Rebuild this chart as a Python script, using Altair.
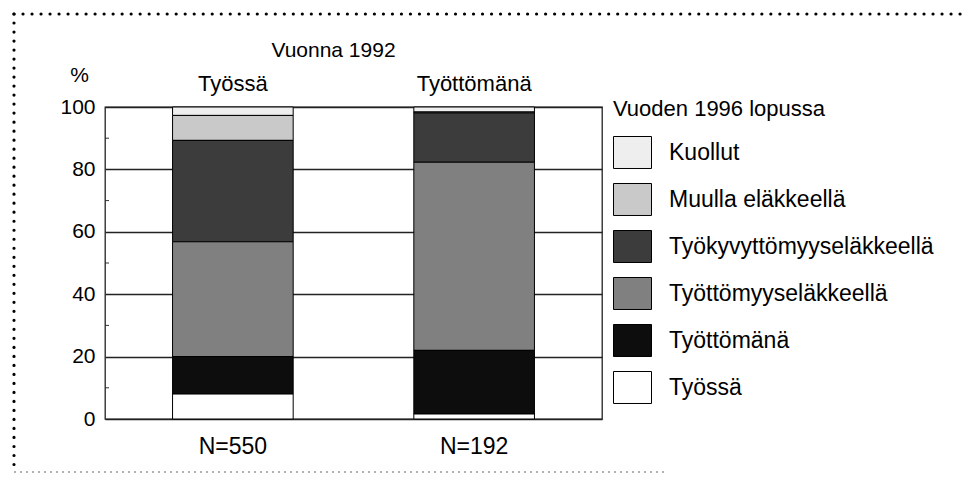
import altair as alt
import pandas as pd

# ---- data ----
groups = ["Työssä", "Työttömänä"]
n_labels = ["N=550", "N=192"]
statuses = ["Kuollut", "Muulla eläkkeellä", "Työkyvyttömyyseläkkeellä",
            "Työttömyyseläkkeellä", "Työttömänä", "Työssä"]
values_tyossa = [2.7, 8.0, 32.5, 36.8, 12.0, 8.0]
values_tyottomana = [1.6, 0.3, 15.8, 60.3, 20.4, 1.6]
colors = ["#eeeeee", "#c9c9c9", "#3c3c3c", "#808080", "#0d0d0d", "#ffffff"]
y_ticks = [0, 20, 40, 60, 80, 100]
minor_ticks = [10, 30, 50, 70, 90]

rows = []
for g, vals in zip(groups, [values_tyossa, values_tyottomana]):
    for i, (s, v) in enumerate(zip(statuses, vals)):
        rows.append({"group": g, "status": s, "value": v, "order": len(statuses) - 1 - i})
df = pd.DataFrame(rows)
ndf = pd.DataFrame({"group": groups, "n": n_labels})
mdf = pd.DataFrame({"value": minor_ticks})
one = pd.DataFrame({"a": [0]})

FONT = "Liberation Sans"

x_enc = alt.X(
    "group:N", sort=groups,
    scale=alt.Scale(paddingInner=0.5, paddingOuter=0.28),
    axis=alt.Axis(orient="top", title="Vuonna 1992", labelAngle=0, ticks=False,
                  domain=False, grid=False, labelPadding=12, labelFontSize=22,
                  labelColor="black", titleX=228, titleY=-57, titleAlign="center",
                  titleBaseline="middle", titleFontSize=21, titleFontWeight="normal",
                  titleColor="black"),
)
y_axis = alt.Axis(values=y_ticks, title="%", titleAngle=0, titleX=-26, titleY=-32,
                  titleAlign="center", titleBaseline="middle", titleFontSize=21,
                  titleFontWeight="normal", titleColor="black", ticks=False,
                  domain=False, grid=True, gridColor="#222222", gridWidth=1.3,
                  labelFontSize=21, labelPadding=10, labelColor="black")
y_scale = alt.Scale(domain=[0, 100], nice=False)

bars = alt.Chart(df).mark_bar(stroke="black", strokeWidth=1).encode(
    x=x_enc,
    y=alt.Y("value:Q", stack="zero", scale=y_scale, axis=y_axis),
    color=alt.Color(
        "status:N", sort=statuses,
        scale=alt.Scale(domain=statuses, range=colors),
        legend=alt.Legend(
            title="Vuoden 1996 lopussa", orient="none", legendX=508, legendY=-8,
            symbolType="M-1,-0.842H1V0.842H-1Z", symbolSize=1444,
            symbolStrokeColor="black", symbolStrokeWidth=1, symbolOpacity=1,
            labelFontSize=23, labelColor="black", labelOffset=17, labelLimit=400,
            titleFontSize=22, titleFontWeight="normal", titleColor="black",
            titleLimit=400, titlePadding=12, rowPadding=9, padding=0,
        ),
    ),
    order=alt.Order("order:Q", sort="ascending"),
)

ntext = alt.Chart(ndf).mark_text(fontSize=23, baseline="middle", color="black").encode(
    x=x_enc,
    y=alt.value(340),
    text="n:N",
)

minor = alt.Chart(mdf).mark_rule(color="#333333", strokeWidth=1).encode(
    x=alt.value(0), x2=alt.value(4),
    y=alt.Y("value:Q", scale=y_scale, axis=y_axis),
)

top_dots = alt.Chart(one).mark_rule(strokeDash=[0.01, 9], strokeCap="round",
                                    strokeWidth=3.2, color="black").encode(
    x=alt.value(-91), x2=alt.value(870), y=alt.value(-93))
left_dots = alt.Chart(one).mark_rule(strokeDash=[0.01, 9], strokeCap="round",
                                     strokeWidth=3.2, color="black").encode(
    x=alt.value(-91), y=alt.value(-93), y2=alt.value(365))
bottom_dots = alt.Chart(one).mark_rule(strokeDash=[2, 4], strokeWidth=1.5,
                                       color="#999999").encode(
    x=alt.value(-91), x2=alt.value(560), y=alt.value(365))

chart = alt.layer(bars, minor, ntext, top_dots, left_dots, bottom_dots).properties(
    width=497, height=312,
    autosize=alt.AutoSizeParams(type="none"),
    padding={"left": 97, "top": 99, "right": 361, "bottom": 55},
    background="white",
).configure(font=FONT).configure_view(stroke="#222222", strokeWidth=1.3)

chart.save("out.html", embed_options={"renderer": "svg", "actions": False})
